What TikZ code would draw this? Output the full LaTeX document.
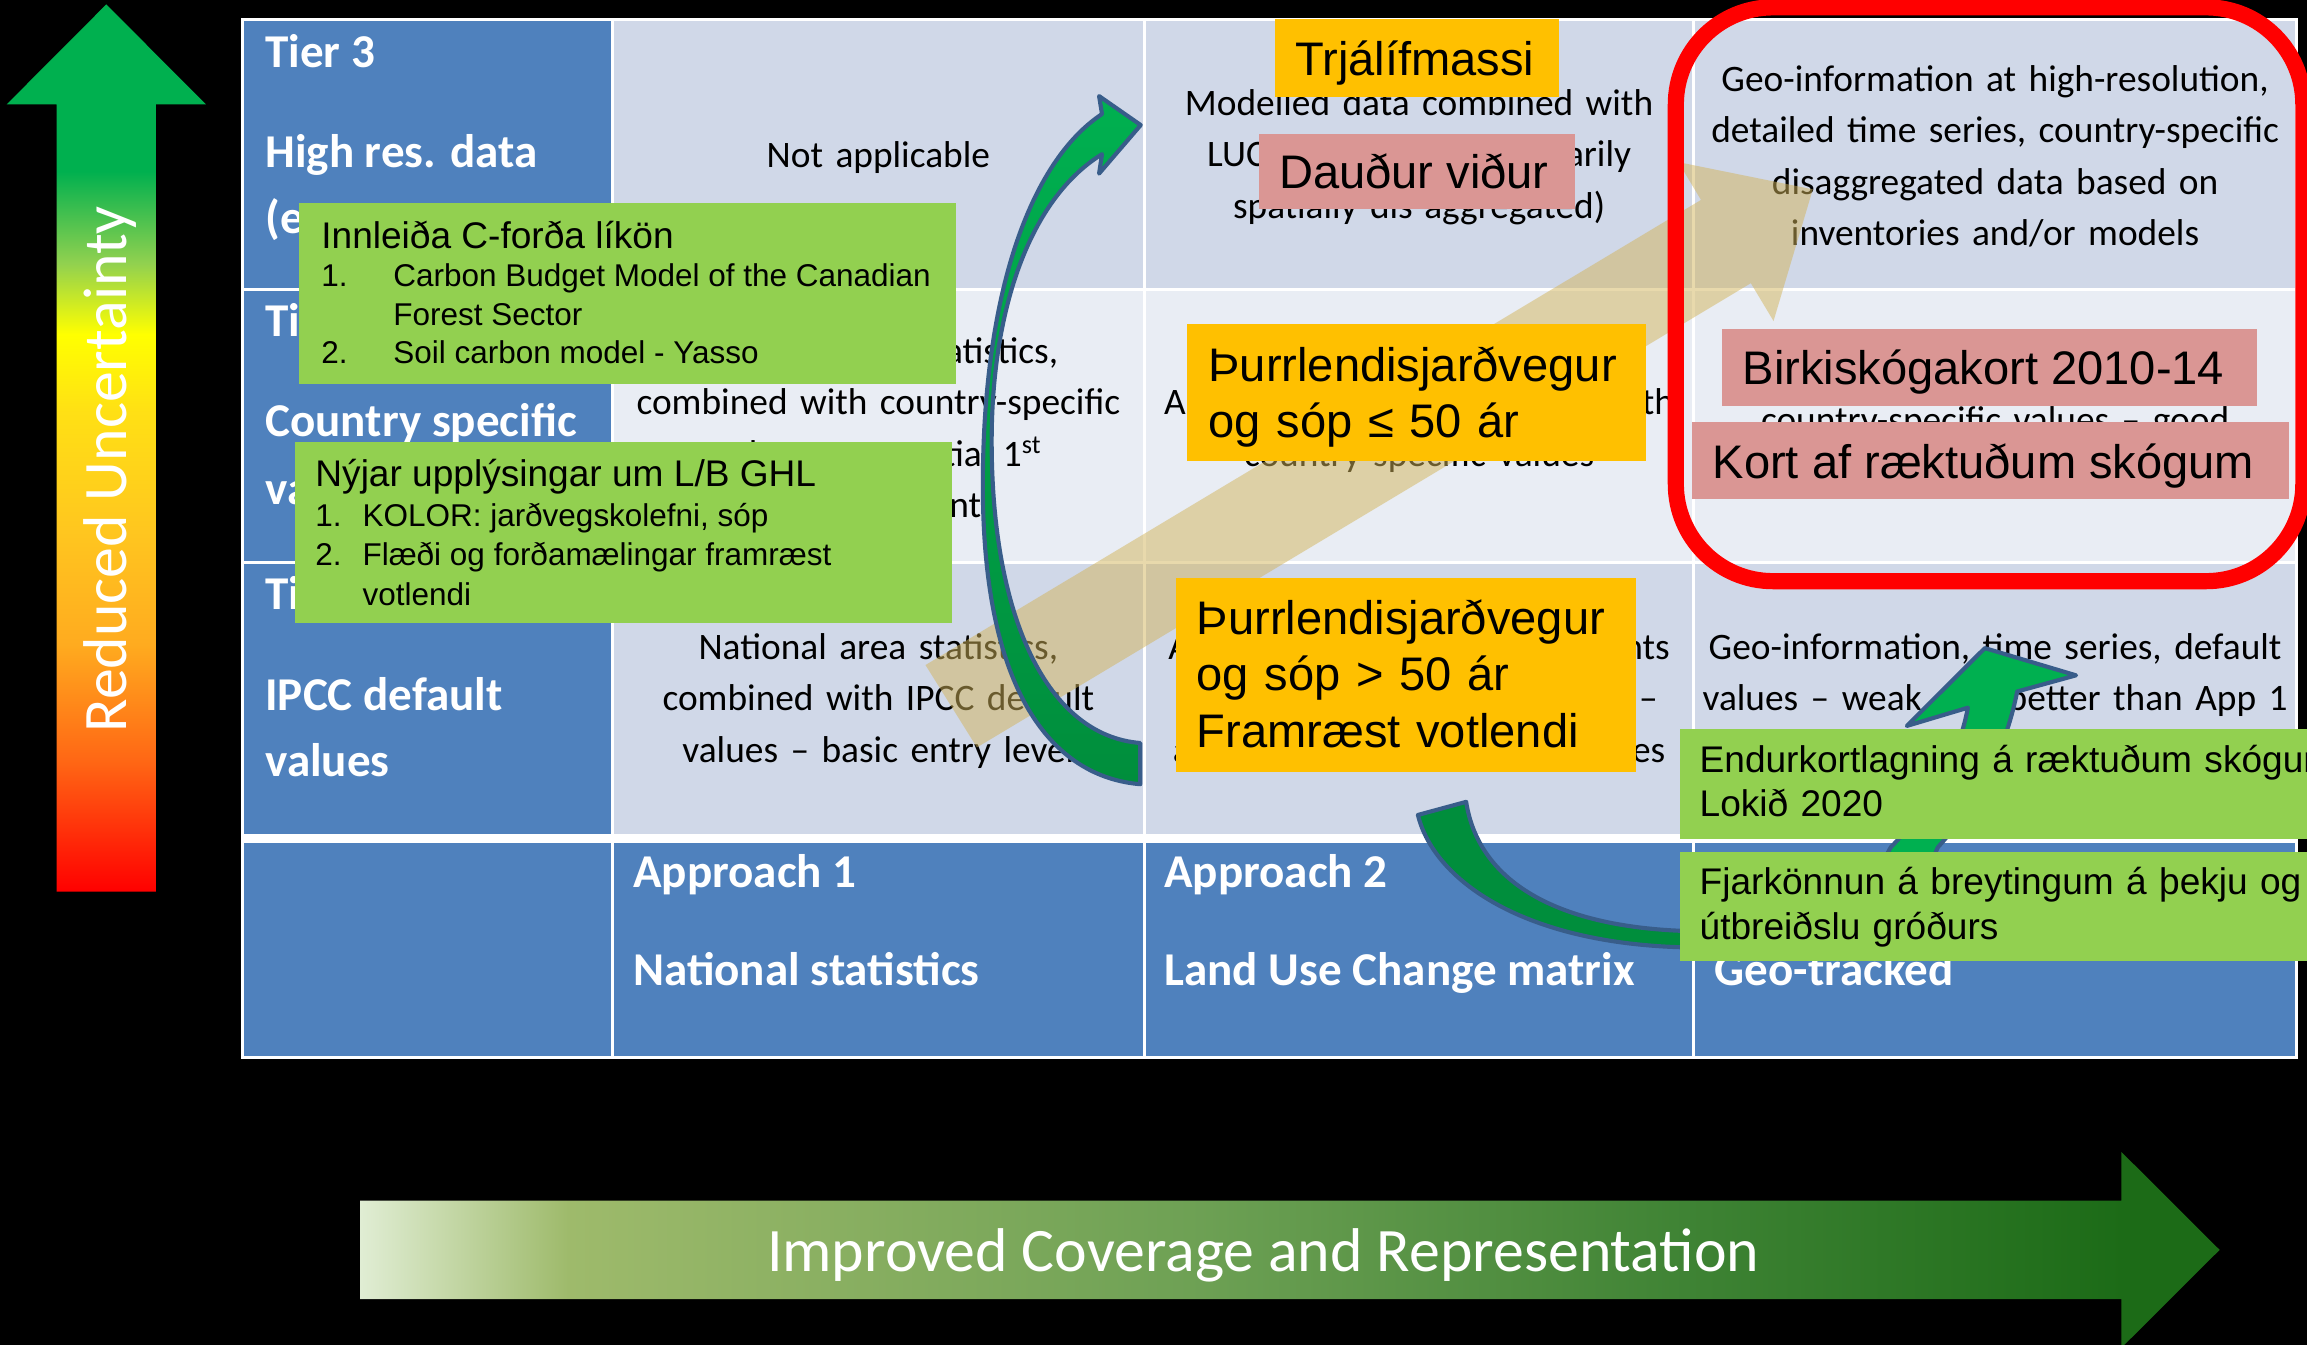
\documentclass[tikz,border=0pt]{standalone}
\usepackage{fontspec}
\setmainfont{Carlito}
\newfontfamily\arialfont{Liberation Sans}
\usetikzlibrary{fit}
\definecolor{tblue}{HTML}{4F81BD}
\definecolor{tdark}{HTML}{D0D8E8}
\definecolor{tlight}{HTML}{E9EDF4}
\definecolor{boxgreen}{HTML}{92D050}
\definecolor{boxorange}{HTML}{FFC000}
\definecolor{boxpink}{HTML}{DA9694}
\definecolor{arrgreen}{HTML}{00B050}
\definecolor{arrdark}{HTML}{008E3C}
\definecolor{arredge}{HTML}{385D8A}
\definecolor{goldarr}{RGB}{210,180,90}
\pgfdeclareverticalshading{uncshade}{100bp}{rgb(0bp)=(1,0,0); rgb(25bp)=(1,0,0); rgb(32.3bp)=(1,0.4,0.08); rgb(38.9bp)=(1,0.67,0.12); rgb(45.5bp)=(1,0.78,0.12); rgb(52.1bp)=(1,0.88,0.08); rgb(56.4bp)=(1,1,0); rgb(60.4bp)=(0.57,0.82,0.31); rgb(65.6bp)=(0,0.69,0.31); rgb(100bp)=(0,0.69,0.31)}
\pgfdeclarehorizontalshading{covshade}{100bp}{rgb(0bp)=(0.88,0.93,0.83); rgb(25bp)=(0.88,0.93,0.83); rgb(30.6bp)=(0.62,0.73,0.42); rgb(47.4bp)=(0.43,0.63,0.33); rgb(61.1bp)=(0.24,0.51,0.2); rgb(72.4bp)=(0.11,0.42,0.09); rgb(100bp)=(0.11,0.42,0.09)}
\begin{document}
\begin{tikzpicture}[x=0.5pt,y=-0.5pt,
  cellbody/.style={font=\fontsize{12.7}{17.5}\selectfont, align=center, text width=180pt, anchor=base, inner sep=0pt},
  headtxt/.style={font=\fontsize{16}{19}\selectfont\bfseries, text=white, anchor=base west, inner sep=0pt},
  patch/.style={inner sep=0pt, draw=none},
  gbox/.style={patch, fill=boxgreen},
  obox/.style={patch, fill=boxorange},
  pbox/.style={patch, fill=boxpink},
  boxtxt/.style={font=\arialfont\fontsize{16}{19.2}\selectfont, anchor=base west, inner sep=0pt, align=left},
  gtitle/.style={font=\arialfont\fontsize{12.6}{15}\selectfont, anchor=base west, inner sep=0pt, align=left},
  glist/.style={font=\arialfont\fontsize{10.7}{13}\selectfont, anchor=base west, inner sep=0pt},
  blockarr/.style={draw=arredge, line width=1.4pt, line join=round},
  bigtxt/.style={font=\fontsize{21}{25}\selectfont, text=white, inner sep=0pt}]
\clip (0,0) rectangle (1568,914);
\fill[black] (0,0) rectangle (1568,914);
\shade[shading=uncshade] (38.5,606) -- (38.5,71) -- (4.5,71) -- (72.25,3) -- (140,71) -- (106,71) -- (106,606) -- cycle;
\node[bigtxt, rotate=90] (uncert) at (75,319) {Reduced Uncertainty};
\shade[shading=covshade] (244.7,816) -- (1441.9,816) -- (1441.9,783) -- (1508.6,849.5) -- (1441.9,916) -- (1441.9,883) -- (244.7,883) -- cycle;
\node[bigtxt, anchor=base] (cover) at (858.5,864) {Improved Coverage and Representation};
\fill[white] (164,12) rectangle (1562,720);
\foreach \ya/\yb/\tint in {14/196/tdark,198/381/tlight,383/567/tdark}{
  \fill[tblue] (166,\ya) rectangle (415,\yb);
  \foreach \xa/\xb in {417/777,779/1150,1152/1560}
    \fill[\tint] (\xa,\ya) rectangle (\xb,\yb);
}
\foreach \xa/\xb in {166/415,417/777,779/1150,1152/1560}
  \fill[tblue] (\xa,573) rectangle (\xb,718);
\foreach \nm/\xx/\yy/\txt in {tierc/180/46/{Tier 3}, tierchi/180/114/{High res. data}, tiercex/180/158.5/{(e.g.},
    tierb/180/229/{Tier 2}, tierbcs/180/297/{Country specific}, tierbval/180/343/{values},
    tiera/180/414.5/{Tier 1}, tieraipcc/180/483/{IPCC default}, tieraval/180/528/{values},
    appa/430/603/{Approach 1}, appanat/430/670/{National statistics},
    appb/791/603/{Approach 2}, appbluc/791/670/{Land Use Change matrix}, appcgeo/1165/670/{Geo-tracked}}
  \node[headtxt] (\nm) at (\xx,\yy) {\txt};
\node[cellbody] (notapp) at (597,114) {Not applicable};
\node[cellbody] (natcs) at (597,247) {National area statistics,\\combined with country-specific\\values – potential 1\textsuperscript{st}\\improvement};
\node[cellbody] (natipcc) at (597,448) {National area statistics,\\combined with IPCC default\\values – basic entry level};
\node[cellbody] (lucmod) at (964.5,78.5) {Modelled data combined with\\LUC matrix (not necessarily\\spatially dis-aggregated)};
\node[cellbody] (luccs) at (964.5,282) {Approach 1 data, combined with\\country specific values};
\node[cellbody] (lucipcc) at (964.5,448) {Aggregated national land counts\\combined with IPCC defaults –\\applicable to all land categories};
\node[cellbody, text width=200pt] (geohr) at (1356,62) {Geo-information at high-resolution,\\detailed time series, country-specific\\disaggregated data based on\\inventories and/or models};
\node[cellbody, text width=200pt] (geocs) at (1356,294) {country-specific values – good};
\node[cellbody, text width=200pt] (geoipcc) at (1356,448) {Geo-information, time series, default\\values – weak, but better than App 1};
\fill[goldarr, opacity=.5] (629,452) -- (1156.1,135.9) -- (1140.7,110.2) -- (1232.1,128.7) -- (1205.4,218.2) -- (1190,192.5) -- (664,508) -- cycle;
\shadedraw[blockarr, top color=arrgreen, bottom color=arrdark] (775,533) .. controls (715,528) and (668,470) .. (668,330)
  .. controls (668,200) and (700,110) .. (749,77.5) -- (747,65.3) -- (775.3,85) -- (747,118) -- (749,104.8)
  .. controls (700,135) and (674,210) .. (674,300) .. controls (674,420) and (712,500) .. (775,505) -- cycle;
\filldraw[blockarr, fill=arrdark] (963.7,553.9) .. controls (975,600) and (1040,645) .. (1160,644) -- (1160,633)
  .. controls (1060,633) and (1005,600) .. (996.5,545) -- cycle;
\filldraw[blockarr, fill=arrgreen] (1337.5,481) .. controls (1330,520) and (1310,550) .. (1285,576) -- (1250,640) -- (1290,640)
  -- (1317,576) .. controls (1342,548) and (1362,515) .. (1371,470) -- (1411,459) -- (1349,440.5) -- (1296,493.4) -- cycle;
\node[gbox, fit={(203,138) (650,261)}] (modelbox) {};
\node[gtitle] (modeltitle) at (218,169) {Innleiða C-forða líkön};
\node[glist] (modellist) at (218,195) {\begin{tabular}[t]{@{}p{24.5pt}@{}l@{}}1.&Carbon Budget Model of the Canadian\\&Forest Sector\\2.&Soil carbon model - Yasso\end{tabular}};
\node[gbox, fit={(200.6,300.5) (647,423.5)}] (newbox) {};
\node[gtitle] (newtitle) at (214,330.7) {Nýjar upplýsingar um L/B GHL};
\node[glist, font=\arialfont\fontsize{10.7}{13.3}\selectfont] (newlist) at (214,358) {\begin{tabular}[t]{@{}p{16pt}@{}l@{}}1.&KOLOR: jarðvegskolefni, sóp\\2.&Flæði og forðamælingar framræst\\&votlendi\end{tabular}};
\node[obox, fit={(866.5,12.6) (1059.6,65.9)}] (biobox) {};
\node[boxtxt] (bio) at (880,51.5) {Trjálífmassi};
\node[pbox, fit={(855.8,91) (1070.6,142)}] (deadbox) {};
\node[boxtxt] (dead) at (869,128) {Dauður viður};
\node[obox, fit={(806.8,220) (1119,313)}] (drylobox) {};
\node[boxtxt, text width=150pt] (drylo) at (821,259) {Þurrlendisjarðvegur\\og sóp ≤ 50 ár};
\node[obox, fit={(799.6,393) (1112,524.5)}] (dryhibox) {};
\node[boxtxt, text width=150pt] (dryhi) at (813,431) {Þurrlendisjarðvegur\\og sóp > 50 ár\\Framræst votlendi};
\node[pbox, fit={(1170.5,223.7) (1533.7,275.7)}] (birchbox) {};
\node[boxtxt] (birch) at (1184,261.4) {Birkiskógakort 2010-14};
\node[pbox, fit={(1150,287) (1555.7,339.4)}] (plantbox) {};
\node[boxtxt] (plant) at (1163.6,325) {Kort af ræktuðum skógum};
\node[gbox, fit={(1141.5,495.7) (1600,570.5)}] (remapbox) {};
\node[gtitle, text width=260pt] (remap) at (1154.8,524.8) {Endurkortlagning á ræktuðum skógum\\Lokið 2020};
\node[gbox, fit={(1141.5,579) (1600,653)}] (sensebox) {};
\node[gtitle, text width=260pt] (sense) at (1154.8,608.3) {Fjarkönnun á breytingum á þekju og\\útbreiðslu gróðurs};
\draw[red, line width=5.5pt, rounded corners=33pt] (1139,5) rectangle (1565.5,395);
\end{tikzpicture}
\end{document}
